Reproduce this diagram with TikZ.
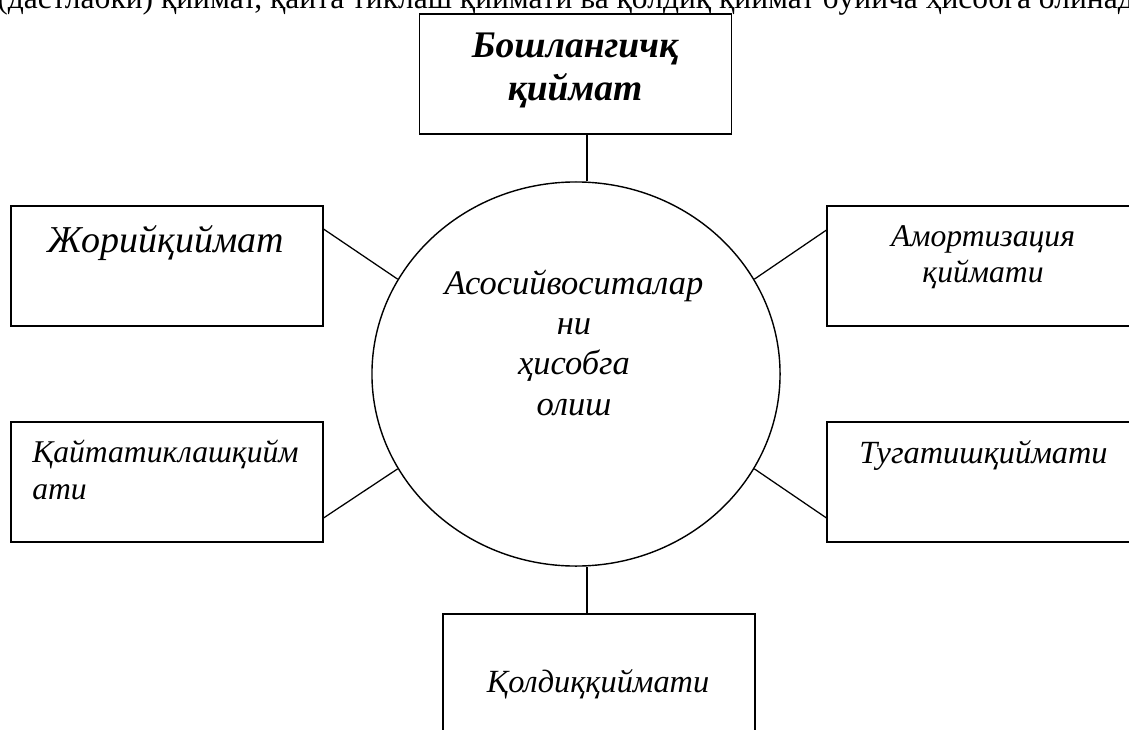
\documentclass[tikz,border=0pt]{standalone}
\usepackage{fontspec}
\setmainfont{Liberation Serif}
\usepackage{tikz}
\usetikzlibrary{shapes.geometric,calc}

\begin{document}
\begin{tikzpicture}[x=0.025cm,y=-0.025cm,
	box/.style={draw,line width=1.1pt,minimum width=7.8cm,minimum height=3cm,inner sep=0pt},
	txt/.style={inner sep=0pt,font=\fontsize{23}{28.5}\selectfont\itshape},
	wire/.style={line width=0.9pt}]
	\useasboundingbox (0,0) rectangle (1129,729);
	\clip (0,0) rectangle (1129,729);
	%\draw[help lines] (0,0) grid[step=1cm] (1129,729);
	\node[anchor=base west,inner sep=0pt,font=\fontsize{22.4}{28}\selectfont] (line) at (-3,9) {(дастлабки) қиймат, қайта тиклаш қиймати ва қолдиқ қиймат бўйича ҳисобга олинади.};
	\node[box] (top) at (575.5,74) {};
	\node[draw,ellipse,line width=1pt,minimum width=10.2cm,minimum height=9.6cm,inner sep=0pt] (hub) at (576,374) {};
	\node[box] (cur) at (167,266) {};
	\node[box] (rest) at (167,482) {};
	\node[box] (amort) at (983,266) {};
	\node[box] (liq) at (983,482) {};
	\node[box] (resid) at (599,674) {};
	\coordinate (tp) at ($(top.south)+(11.5,0)$);
	\coordinate (bp) at ($(resid.north)+(-12,0)$);
	\draw[wire] (tp) -- (tp |- hub.north);
	\draw[wire] (bp |- hub.south) -- (bp);
	\draw[wire] ($(cur.north east)+(0,24)$) -- (hub.152);
	\draw[wire] ($(rest.south east)+(0,-25)$) -- (hub.208);
	\draw[wire] (hub.28) -- ($(amort.north west)+(0,25)$);
	\draw[wire] (hub.-28) -- ($(liq.south west)+(0,-25)$);
	% base = last line
	\node[txt,anchor=base,align=center,font=\fontsize{26.7}{29.9}\selectfont\bfseries\itshape] at (575,100) {Бошлангичқ\\қиймат};
	\node[txt,anchor=base,align=center,font=\fontsize{24.5}{28.5}\selectfont\itshape] at (574,415) {Асосийвоситалар\\ни\\ҳисобга\\олиш};
	\node[txt,anchor=base,font=\fontsize{27}{32}\selectfont\itshape] at (166,252) {Жорийқиймат};
	\node[txt,anchor=base west,align=left,font=\fontsize{22.5}{26.3}\selectfont\itshape] at (32,499) {Қайтатиклашқийм\\ати};
	\node[txt,anchor=base,align=center,font=\fontsize{22.5}{24.9}\selectfont\itshape] at (983,282) {Амортизация\\қиймати};
	\node[txt,anchor=base] at (983.5,463) {Тугатишқиймати};
	\node[txt,anchor=base] at (598,692) {Қолдиққиймати};
\end{tikzpicture}
\end{document}
